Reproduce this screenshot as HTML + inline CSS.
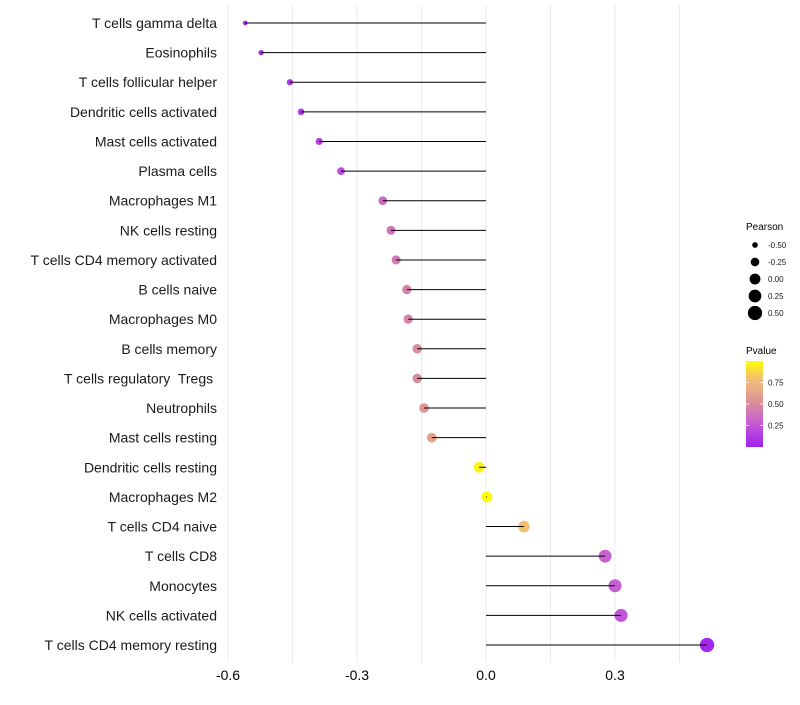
<!DOCTYPE html>
<html><head><meta charset="utf-8"><style>
body{margin:0;background:#fff;font-family:"Liberation Sans",sans-serif;}
svg text{font-family:"Liberation Sans",sans-serif;white-space:pre;}
</style></head><body>
<svg id="chart" width="800" height="700"></svg>
<script>
const categories=["T cells gamma delta","Eosinophils","T cells follicular helper","Dendritic cells activated","Mast cells activated","Plasma cells","Macrophages M1","NK cells resting","T cells CD4 memory activated","B cells naive","Macrophages M0","B cells memory","T cells regulatory  Tregs ","Neutrophils","Mast cells resting","Dendritic cells resting","Macrophages M2","T cells CD4 naive","T cells CD8","Monocytes","NK cells activated","T cells CD4 memory resting"];
const pearson=[-0.560,-0.523,-0.456,-0.430,-0.388,-0.337,-0.240,-0.221,-0.209,-0.184,-0.181,-0.160,-0.160,-0.144,-0.126,-0.016,0.002,0.088,0.277,0.300,0.314,0.514];
const pvalue=[0.03,0.06,0.1,0.12,0.15,0.2,0.35,0.38,0.4,0.45,0.46,0.5,0.5,0.55,0.62,0.96,0.99,0.8,0.3,0.28,0.25,0.03];
const xTicks=[-0.6,-0.3,0.0,0.3];
const xTickLabels=["-0.6","-0.3","0.0","0.3"];
const sizeLegend=[-0.50,-0.25,0.00,0.25,0.50];
const sizeLegendLabels=["-0.50","-0.25","0.00","0.25","0.50"];
const colorTicks=[0.25,0.5,0.75];
const colorTickLabels=["0.25","0.50","0.75"];

const NS="http://www.w3.org/2000/svg";
const svg=document.getElementById('chart');
function mk(t,a,p){const e=document.createElementNS(NS,t);for(const k in a)e.setAttribute(k,a[k]);(p||svg).appendChild(e);return e;}
const xS=v=>486+v*430;
const yS=i=>23+i*(645-23)/(categories.length-1);
const rS=v=>Math.sqrt(Math.max(3,29.5+43*v));
const stops=[[0,[160,32,240]],[0.3,[200,98,208]],[0.5,[216,140,158]],[0.65,[232,168,136]],[0.8,[242,192,112]],[1,[255,255,0]]];
function col(p){for(let i=1;i<stops.length;i++){if(p<=stops[i][0]){const [a,ca]=stops[i-1],[b,cb]=stops[i];const t=(p-a)/(b-a);return 'rgb('+ca.map((c,j)=>Math.round(c+(cb[j]-c)*t)).join(',')+')';}}return 'rgb(255,255,0)';}

for(let v=-0.6;v<=0.46;v+=0.15){const g=mk('line',{x1:xS(v),x2:xS(v),y1:5,y2:662,stroke:'#ebebeb','stroke-width':1});

}
xTicks.forEach((v,i)=>{const t=mk('text',{x:xS(v),y:680,'text-anchor':'middle','font-size':14,fill:'#000'});t.textContent=xTickLabels[i];

});

categories.forEach((c,i)=>{
const y=yS(i);
const t=mk('text',{x:217,y:y+5,'text-anchor':'end','font-size':14,fill:'#1a1a1a'});t.textContent=c;


const d=mk('circle',{cx:xS(pearson[i]),cy:y,r:rS(pearson[i]),fill:col(pvalue[i])});


const l=mk('line',{x1:xS(0),x2:xS(pearson[i]),y1:y,y2:y,stroke:'#000','stroke-width':1});


});

const lt=mk('text',{x:746,y:230,'font-size':10,fill:'#000'});lt.textContent='Pearson';


sizeLegend.forEach((v,i)=>{const y=245+i*17;
const c=mk('circle',{cx:755,cy:y,r:rS(v),fill:'#000'});


const t=mk('text',{x:768,y:y+3,'font-size':8,fill:'#1a1a1a'});t.textContent=sizeLegendLabels[i];

});

const ct=mk('text',{x:746,y:354,'font-size':10,fill:'#000'});ct.textContent='Pvalue';


const defs=mk('defs',{});const gr=mk('linearGradient',{id:'cg',x1:0,y1:1,x2:0,y2:0},defs);
stops.forEach(s=>mk('stop',{offset:s[0],'stop-color':'rgb('+s[1].join(',')+')'},gr));
const bar=mk('rect',{x:746,y:361,width:17,height:86,fill:'url(#cg)'});


colorTicks.forEach((v,i)=>{const y=447-v*86;
mk('line',{x1:746,x2:749,y1:y,y2:y,stroke:'#fff','stroke-width':0.7});mk('line',{x1:760,x2:763,y1:y,y2:y,stroke:'#fff','stroke-width':0.7});
const t=mk('text',{x:768,y:y+3,'font-size':8,fill:'#1a1a1a'});t.textContent=colorTickLabels[i];

});
</script>
</body></html>
